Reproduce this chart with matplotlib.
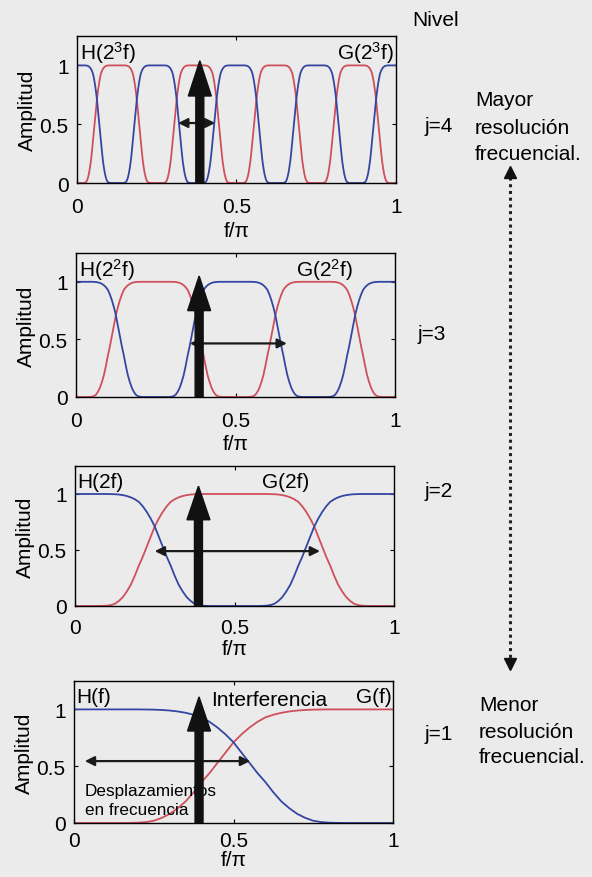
import matplotlib
matplotlib.use("Agg")
import matplotlib.pyplot as plt
from matplotlib.lines import Line2D

plt.rcParams['font.family'] = ['Liberation Sans', 'DejaVu Sans']
plt.rcParams['mathtext.default'] = 'regular'

# ---------------- data ----------------
# base low-pass H(f) and high-pass G(f), sampled at f/pi = 0, 0.025, ..., 1 (level j=1)
f_step = 0.025
H_base = [1.00, 1.00, 1.00, 1.00, 1.00, 1.00, 1.00, 1.00, 1.00, 0.999,
          0.998, 0.995, 0.99, 0.982, 0.97, 0.953, 0.93, 0.89, 0.84, 0.78,
          0.71,
          0.62, 0.53, 0.44, 0.36, 0.27, 0.19, 0.13, 0.08, 0.045, 0.02,
          0.008, 0.003, 0.001, 0.0, 0.0, 0.0, 0.0, 0.0, 0.0, 0.0]
G_base = [0.0, 0.0, 0.0, 0.0, 0.0, 0.0, 0.0, 0.001, 0.003, 0.008,
          0.02, 0.045, 0.08, 0.13, 0.19, 0.27, 0.36, 0.44, 0.53, 0.62,
          0.71,
          0.78, 0.84, 0.89, 0.93, 0.953, 0.97, 0.982, 0.99, 0.995, 0.998,
          0.999, 1.00, 1.00, 1.00, 1.00, 1.00, 1.00, 1.00, 1.00, 1.00]

levels = [4, 3, 2, 1]
h_labels = ['H(2$^3$f)', 'H(2$^2$f)', 'H(2f)', 'H(f)']
g_labels = ['G(2$^3$f)', 'G(2$^2$f)', 'G(2f)', 'G(f)']
g_label_x = [0.995, 0.69, 0.585, 0.995]
level_labels = ['j=4', 'j=3', 'j=2', 'j=1']

interf_x = [0.385, 0.386, 0.387, 0.392]      # big interference arrow position
interf_top = [1.04, 1.05, 1.07, 1.11]
shift_left = [0.317, 0.357, 0.25, 0.034]      # frequency-shift double arrows
shift_right = [0.433, 0.661, 0.768, 0.552]
shift_y = [0.51, 0.465, 0.49, 0.545]

xticks = [0, 0.5, 1]
xtick_labels = ['0', '0.5', '1']
yticks = [0, 0.5, 1]
ytick_labels = ['0', '0.5', '1']

RED = '#cf4f5c'
BLUE = '#3446a2'
BG = '#ebebeb'


def periodic(vals, k):
    """Mirror the sampled half-period and repeat it so it covers k half-periods."""
    period = list(vals) + list(vals[::-1][1:])
    m = len(vals) - 1
    return [period[j % (2 * m)] for j in range(k * m + 1)]


W, Hh = 592, 878
fig = plt.figure(figsize=(W / 100, Hh / 100), dpi=100, facecolor=BG)

axes_px = [(77, 37, 396, 184), (76, 254, 395, 398), (75, 467, 394, 607), (74, 682, 393, 824)]
xtick_pads = [10, 10, 9, 6]
xlabel_pads = [4, 3, 1, 0]
FS = 15

for i, (lv, (l, t, r, b)) in enumerate(zip(levels, axes_px)):
    ax = fig.add_axes([l / W, 1 - b / Hh, (r - l) / W, (b - t) / Hh])
    ax.set_facecolor(BG)
    k = 2 ** (lv - 1)
    Hv = periodic(H_base, k)
    Gv = periodic(G_base, k)
    fx = [j * f_step / k for j in range(len(Hv))]
    ax.plot(fx, Gv, color=RED, lw=1.3, zorder=2)
    ax.plot(fx, Hv, color=BLUE, lw=1.3, zorder=2)
    ax.set_xlim(0, 1)
    ax.set_ylim(0, 1.25)
    ax.set_xticks(xticks)
    ax.set_xticklabels(xtick_labels)
    ax.set_yticks(yticks)
    ax.set_yticklabels(ytick_labels)
    ax.tick_params(direction='in', length=3, top=True, right=True, labelsize=FS)
    ax.tick_params(axis='x', pad=xtick_pads[i])
    ax.tick_params(axis='y', pad=6)
    for s in ax.spines.values():
        s.set_linewidth(1.0)
    ax.set_xlabel('f/π', fontsize=FS, labelpad=xlabel_pads[i])
    ax.set_ylabel('Amplitud', fontsize=FS, labelpad=2)

    ax.text(0.008, 1.11, h_labels[i], fontsize=FS, ha='left', va='center', zorder=5)
    ha = 'right' if g_label_x[i] > 0.9 else 'left'
    ax.text(g_label_x[i], 1.11, g_labels[i], fontsize=FS, ha=ha, va='center', zorder=5)

    # frequency shift double arrow
    ax.annotate('', xy=(shift_left[i], shift_y[i]), xytext=(shift_right[i], shift_y[i]),
                arrowprops=dict(arrowstyle='<|-|>', color='#1a1a1a', lw=1.6,
                                mutation_scale=14, shrinkA=0, shrinkB=0), zorder=6)
    # interference arrow
    ax.arrow(interf_x[i], 0, 0, interf_top[i], width=0.025, head_width=0.072,
             head_length=0.3, length_includes_head=True, color='#111111', zorder=7)

    if lv == 1:
        ax.text(0.43, 1.09, 'Interferencia', fontsize=FS, ha='left', va='center', zorder=5)
        ax.text(0.033, 0.285, 'Desplazamientos', fontsize=12.3, ha='left', va='center', zorder=5)
        ax.text(0.033, 0.12, 'en frecuencia', fontsize=12.3, ha='left', va='center', zorder=5)


# right side annotations
def ftext(x, y, s, **kw):
    fig.text(x / W, 1 - y / Hh, s, **kw)


RS = 15
ftext(412, 20, 'Nivel', fontsize=RS, ha='left', va='center')
level_y = [127, 335, 492, 735]
level_x = [425, 418, 425, 425]
for lab, x, y in zip(level_labels, level_x, level_y):
    ftext(x, y, lab, fontsize=RS, ha='left', va='center')

ftext(475, 101, 'Mayor', fontsize=RS, ha='left', va='center')
ftext(475, 128, 'resolución', fontsize=RS, ha='left', va='center')
ftext(475, 155, 'frecuencial.', fontsize=RS, ha='left', va='center')
ftext(479, 706, 'Menor', fontsize=RS, ha='left', va='center')
ftext(479, 733, 'resolución', fontsize=RS, ha='left', va='center')
ftext(479, 758, 'frecuencial.', fontsize=RS, ha='left', va='center')

xa = 510 / W
fig.add_artist(Line2D([xa, xa], [1 - 178 / Hh, 1 - 660 / Hh], transform=fig.transFigure,
                      color='#222222', lw=2.2, linestyle=(0, (1, 1.2))))
fig.add_artist(Line2D([xa], [1 - 173 / Hh], transform=fig.transFigure, marker='^',
                      markersize=8, color='#111111', linestyle='none'))
fig.add_artist(Line2D([xa], [1 - 665 / Hh], transform=fig.transFigure, marker='v',
                      markersize=8, color='#111111', linestyle='none'))

fig.savefig('out.png', dpi=100, facecolor=BG)
